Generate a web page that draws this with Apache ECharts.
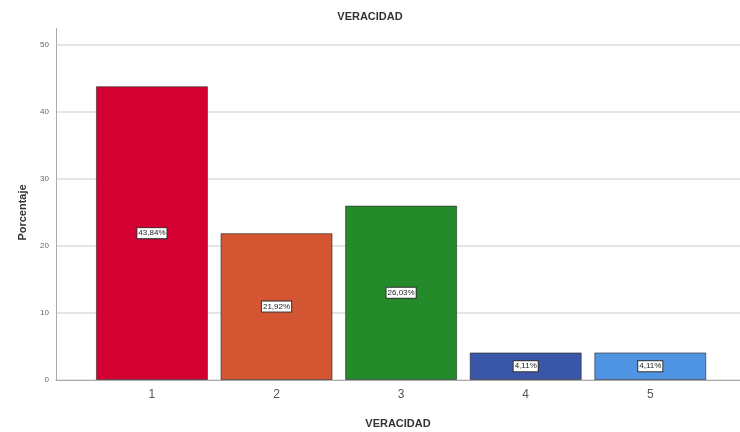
<!DOCTYPE html>
<html>
<head>
<meta charset="utf-8">
<script src="https://cdn.jsdelivr.net/npm/echarts@6/dist/echarts.min.js"></script>
<style>
  html, body { margin: 0; padding: 0; background: #fff; }
  #chart { width: 740px; height: 432px; }
</style>
</head>
<body>
<div id="chart"></div>
<script>
// VERACIDAD — porcentaje por categoría
const categories = [1, 2, 3, 4, 5];
const percents = [43.84, 21.92, 26.03, 4.11, 4.11];
const barColors = ["#d50032", "#d35532", "#248a2a", "#3a56a6", "#4f93e3"];

const chart = echarts.init(document.getElementById("chart"), null, { renderer: "canvas" });

const fmt = (v) => v.toFixed(2).replace(".", ",") + "%";

chart.setOption({
  animation: false,
  backgroundColor: "#fff",
  textStyle: { fontFamily: "Liberation Sans, Arial, sans-serif" },
  title: {
    text: "VERACIDAD",
    left: "center",
    top: 6,
    textStyle: { fontSize: 11, fontWeight: "bold", color: "#333" },
  },
  // v6: keep the grid where we put it, don't shrink it for outside labels
  grid: { left: 56, right: 0, top: 45, bottom: 52, outerBoundsMode: "none" },
  xAxis: {
    type: "value",
    min: 0.23,
    max: 5.72,
    name: "VERACIDAD",
    nameLocation: "middle",
    nameGap: 38,
    nameTextStyle: { fontSize: 11, fontWeight: "bold", color: "#333" },
    axisLine: { show: true, lineStyle: { color: "#aaa", width: 1 } },
    axisTick: { show: false },
    splitLine: { show: false },
    axisLabel: { customValues: categories, fontSize: 12, color: "#555", margin: 9 },
  },
  yAxis: {
    type: "value",
    min: 0,
    max: 50,
    interval: 10,
    name: "Porcentaje",
    nameLocation: "middle",
    nameGap: 28,
    nameTextStyle: { fontSize: 11, fontWeight: "bold", color: "#333" },
    axisLine: { show: true, lineStyle: { color: "#aaa", width: 1 } },
    axisTick: { show: false },
    axisLabel: { fontSize: 8, color: "#666", margin: 7 },
    splitLine: { lineStyle: { color: "#ddd", width: 1.5 } },
  },
  graphic: [
    {
      type: "line",
      shape: { x1: 56.5, y1: 28, x2: 56.5, y2: 45 },
      style: { stroke: "#aaa", lineWidth: 1 },
    },
  ],
  series: [
    {
      type: "bar",
      barWidth: 112,
      data: categories.map((c, i) => ({
        value: [c, percents[i]],
        itemStyle: { color: barColors[i] },
      })),
      itemStyle: { borderColor: "rgba(40,40,40,0.6)", borderWidth: 1 },
      label: {
        show: true,
        position: "inside",
        formatter: (p) => fmt(p.value[1]),
        fontSize: 8,
        color: "#222",
        backgroundColor: "#fff",
        borderColor: "#333",
        borderWidth: 1,
        padding: [1, 1],
      },
    },
  ],
});
</script>
</body>
</html>
